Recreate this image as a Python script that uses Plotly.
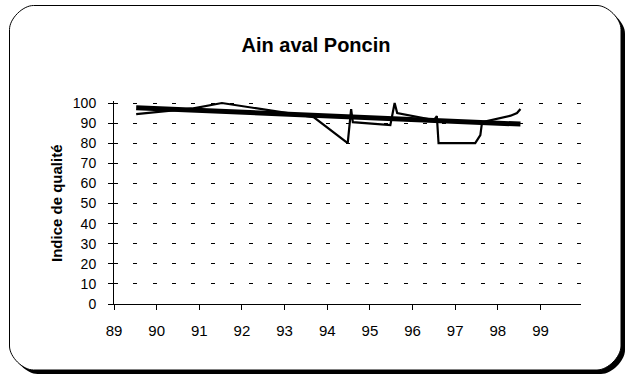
import plotly.graph_objects as go

# Water quality index readings (year as decimal, 89 = 1989)
years = [89.52, 90.86, 91.53, 93.68, 94.48, 94.56, 94.60, 95.48, 95.58, 95.64,
         96.50, 96.57, 96.61, 97.47, 97.59, 97.63, 98.30, 98.45, 98.53]
quality = [94.5, 97.3, 100, 93, 80, 97, 90.5, 89, 100, 95,
           91.5, 93.5, 80, 80, 84, 90.5, 93.7, 95, 97]

# Linear trend end points
trend_years = [89.52, 98.53]
trend_values = [97.7, 89.5]

x_ticks = list(range(89, 100))
y_ticks = list(range(0, 101, 10))

W, H = 632, 376
L, R, T, B = 114, 51, 101, 72
PW, PH = W - L - R, H - T - B


def px(x):
    return (x - L) / PW


def py(y):
    return (H - B - y) / PH


def rounded_path(x0, y0, x1, y1, r):
    k = 0.45 * r
    pts = [
        f"M{px(x0 + r)},{py(y0)}",
        f"L{px(x1 - r)},{py(y0)}",
        f"C{px(x1 - r + k)},{py(y0)} {px(x1)},{py(y0 + r - k)} {px(x1)},{py(y0 + r)}",
        f"L{px(x1)},{py(y1 - r)}",
        f"C{px(x1)},{py(y1 - r + k)} {px(x1 - r + k)},{py(y1)} {px(x1 - r)},{py(y1)}",
        f"L{px(x0 + r)},{py(y1)}",
        f"C{px(x0 + r - k)},{py(y1)} {px(x0)},{py(y1 - r + k)} {px(x0)},{py(y1 - r)}",
        f"L{px(x0)},{py(y0 + r)}",
        f"C{px(x0)},{py(y0 + r - k)} {px(x0 + r - k)},{py(y0)} {px(x0 + r)},{py(y0)}",
        "Z",
    ]
    return " ".join(pts)


fig = go.Figure()

fig.add_trace(go.Scatter(
    x=years, y=quality, mode="lines",
    line=dict(color="black", width=2.2),
    showlegend=False, hoverinfo="skip",
))
fig.add_trace(go.Scatter(
    x=trend_years, y=trend_values, mode="lines",
    line=dict(color="black", width=5),
    showlegend=False, hoverinfo="skip", yaxis="y2",
))

font = "Liberation Sans, Arial, sans-serif"

fig.update_layout(
    width=W, height=H,
    margin=dict(l=L, r=R, t=T, b=B, pad=0),
    paper_bgcolor="white", plot_bgcolor="rgba(0,0,0,0)",
    font=dict(family=font, size=14, color="black"),
    title=dict(
        text="<b>Ain aval Poncin</b>", x=0.5, xanchor="center",
        y=1 - 45 / H, yanchor="middle", font=dict(size=20, family=font),
    ),
    xaxis=dict(
        range=[89, 99.95], tickmode="array", tickvals=x_ticks,
        ticktext=[str(v) for v in x_ticks],
        showgrid=False, zeroline=False,
        showline=True, linecolor="black", linewidth=1,
        ticks="outside", ticklen=5, tickcolor="black", tickwidth=1,
        ticklabelstandoff=8, tickfont=dict(size=15),
    ),
    yaxis=dict(
        range=[0, 101], tickmode="array", tickvals=y_ticks,
        ticktext=[str(v) for v in y_ticks],
        showgrid=True, gridcolor="black", gridwidth=1, griddash="4px,15.3px",
        zeroline=False,
        showline=True, linecolor="black", linewidth=1,
        ticks="outside", ticklen=5, tickcolor="black", tickwidth=1,
        ticklabelstandoff=9, tickfont=dict(size=14),
    ),
    yaxis2=dict(
        range=[0, 101], overlaying="y", side="left", anchor="x",
        tickmode="array", tickvals=y_ticks, showticklabels=False,
        showgrid=False, zeroline=False, showline=False,
        ticks="inside", ticklen=4, tickcolor="black", tickwidth=1,
    ),
    annotations=[dict(
        text="<b>Indice de qualité</b>", textangle=-90,
        xref="paper", yref="paper", x=px(56), y=py(203),
        xanchor="center", yanchor="middle", showarrow=False,
        font=dict(size=15, family=font),
    )],
    shapes=[
        dict(type="path", xref="paper", yref="paper", layer="below",
             path=rounded_path(13.5, 9.5, 625, 374, 24),
             fillcolor="black", line=dict(width=0)),
        dict(type="path", xref="paper", yref="paper", layer="below",
             path=rounded_path(9.5, 5.5, 621, 370, 24),
             fillcolor="white", line=dict(color="black", width=1)),
    ],
)

fig.write_html("out.html")
